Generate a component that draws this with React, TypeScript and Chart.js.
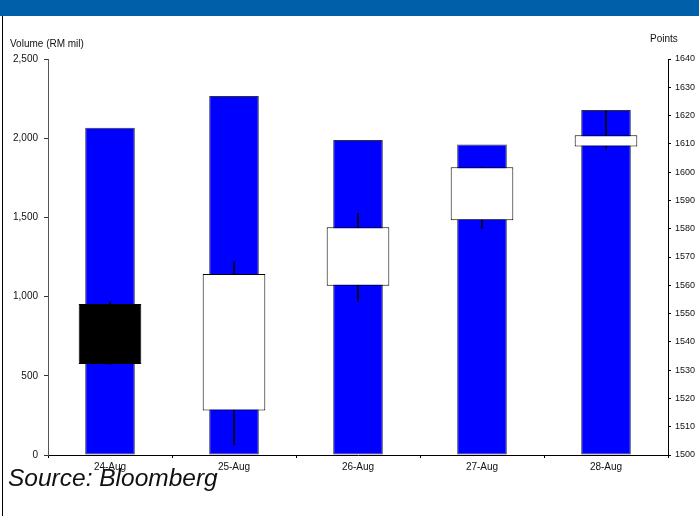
import React, { useEffect, useRef } from 'react';
import { Chart, registerables } from 'chart.js';

Chart.register(...registerables);

// ---- data ----
const categories = ['24-Aug', '25-Aug', '26-Aug', '27-Aug', '28-Aug'];
const volume = [2066, 2266, 1989, 1961, 2178]; // RM mil
const opens = [1553.4, 1515.7, 1559.8, 1583.0, 1609.1];
const closes = [1532.2, 1564.0, 1580.5, 1601.7, 1613.0];
const highs = [1554.1, 1568.3, 1585.4, 1601.7, 1621.6];
const lows = [1532.0, 1503.6, 1554.4, 1580.1, 1608.2];

const volumeMin = 0;
const volumeMax = 2500;
const volumeStep = 500;
const pointsMin = 1500;
const pointsMax = 1640;
const pointsStep = 10;

const FONT = '"Liberation Sans", Arial, sans-serif';

export default function App() {
  const ref = useRef<HTMLCanvasElement>(null);

  useEffect(() => {
    const canvas = ref.current;
    if (!canvas) return;
    const chart = new Chart(canvas, {
      type: 'bar',
      data: {
        labels: categories,
        datasets: [
          {
            label: 'Volume',
            data: volume,
            yAxisID: 'yVol',
            backgroundColor: '#0000FF',
            borderColor: '#333333',
            borderWidth: 1,
            borderSkipped: false,
            barPercentage: 0.4,
            categoryPercentage: 1,
            grouped: false,
            order: 3,
          } as any,
          {
            label: 'High-Low',
            data: highs.map((h, i) => [lows[i], h]),
            yAxisID: 'yPts',
            backgroundColor: '#000000',
            barThickness: 1,
            grouped: false,
            order: 2,
          } as any,
          {
            label: 'Open-Close',
            data: opens.map((o, i) => [o, closes[i]]),
            yAxisID: 'yPts',
            backgroundColor: opens.map((o, i) => (closes[i] < o ? '#000000' : '#FFFFFF')),
            borderColor: '#000000',
            borderWidth: 1,
            borderSkipped: false,
            barPercentage: 0.505,
            categoryPercentage: 1,
            grouped: false,
            order: 1,
          } as any,
        ],
      },
      options: {
        responsive: false,
        animation: false,
        layout: { padding: { left: 8, right: 0, top: 59, bottom: 41 } },
        plugins: { legend: { display: false }, tooltip: { enabled: false } },
        scales: {
          x: {
            grid: { display: true, drawOnChartArea: false, offset: true, tickLength: 3, color: '#000000' },
            border: { color: '#000000', width: 1 },
            ticks: { font: { family: FONT, size: 10 }, color: '#111111', padding: 3, maxRotation: 0 },
            afterFit: (s: any) => { s.height = 20; },
          },
          yVol: {
            position: 'left',
            min: volumeMin,
            max: volumeMax,
            grid: { drawOnChartArea: false, tickLength: 4, color: '#333333' },
            border: { color: '#555555', width: 1 },
            ticks: {
              stepSize: volumeStep,
              font: { family: FONT, size: 10 },
              color: '#111111',
              padding: 6,
              callback: (v: any) => Number(v).toLocaleString('en-US'),
            },
            afterFit: (s: any) => { s.width = 40; },
          },
          yPts: {
            position: 'right',
            min: pointsMin,
            max: pointsMax,
            grid: { drawOnChartArea: false, tickLength: 3, color: '#000000' },
            border: { color: '#000000', width: 1 },
            ticks: {
              stepSize: pointsStep,
              font: { family: FONT, size: 9 },
              color: '#111111',
              padding: 4,
              callback: (v: any) => String(v),
            },
            afterFit: (s: any) => { s.width = 31; },
          },
        },
      } as any,
    });
    return () => chart.destroy();
  }, []);

  return (
    <div
      style={{
        position: 'fixed',
        left: 0,
        top: 0,
        width: 699,
        height: 516,
        background: '#FFFFFF',
        overflow: 'hidden',
        fontFamily: FONT,
      }}
    >
      <canvas ref={ref} width={699} height={516} style={{ position: 'absolute', left: 0, top: 0 }} />
      <div style={{ position: 'absolute', left: 0, top: 0, width: 699, height: 16, background: '#005FA9' }} />
      <div style={{ position: 'absolute', left: 2, top: 16, width: 1, height: 500, background: '#000000' }} />
      <div style={{ position: 'absolute', left: 10, top: 39, fontSize: 10, color: '#111111', whiteSpace: 'nowrap', lineHeight: 1 }}>
        Volume (RM mil)
      </div>
      <div style={{ position: 'absolute', left: 650, top: 34, fontSize: 10, color: '#111111', whiteSpace: 'nowrap', lineHeight: 1 }}>
        Points
      </div>
      <div
        style={{
          position: 'absolute',
          left: 8,
          top: 466,
          fontSize: 24.5,
          fontStyle: 'italic',
          color: '#111111',
          whiteSpace: 'nowrap',
          lineHeight: 1,
        }}
      >
        Source: Bloomberg
      </div>
    </div>
  );
}
